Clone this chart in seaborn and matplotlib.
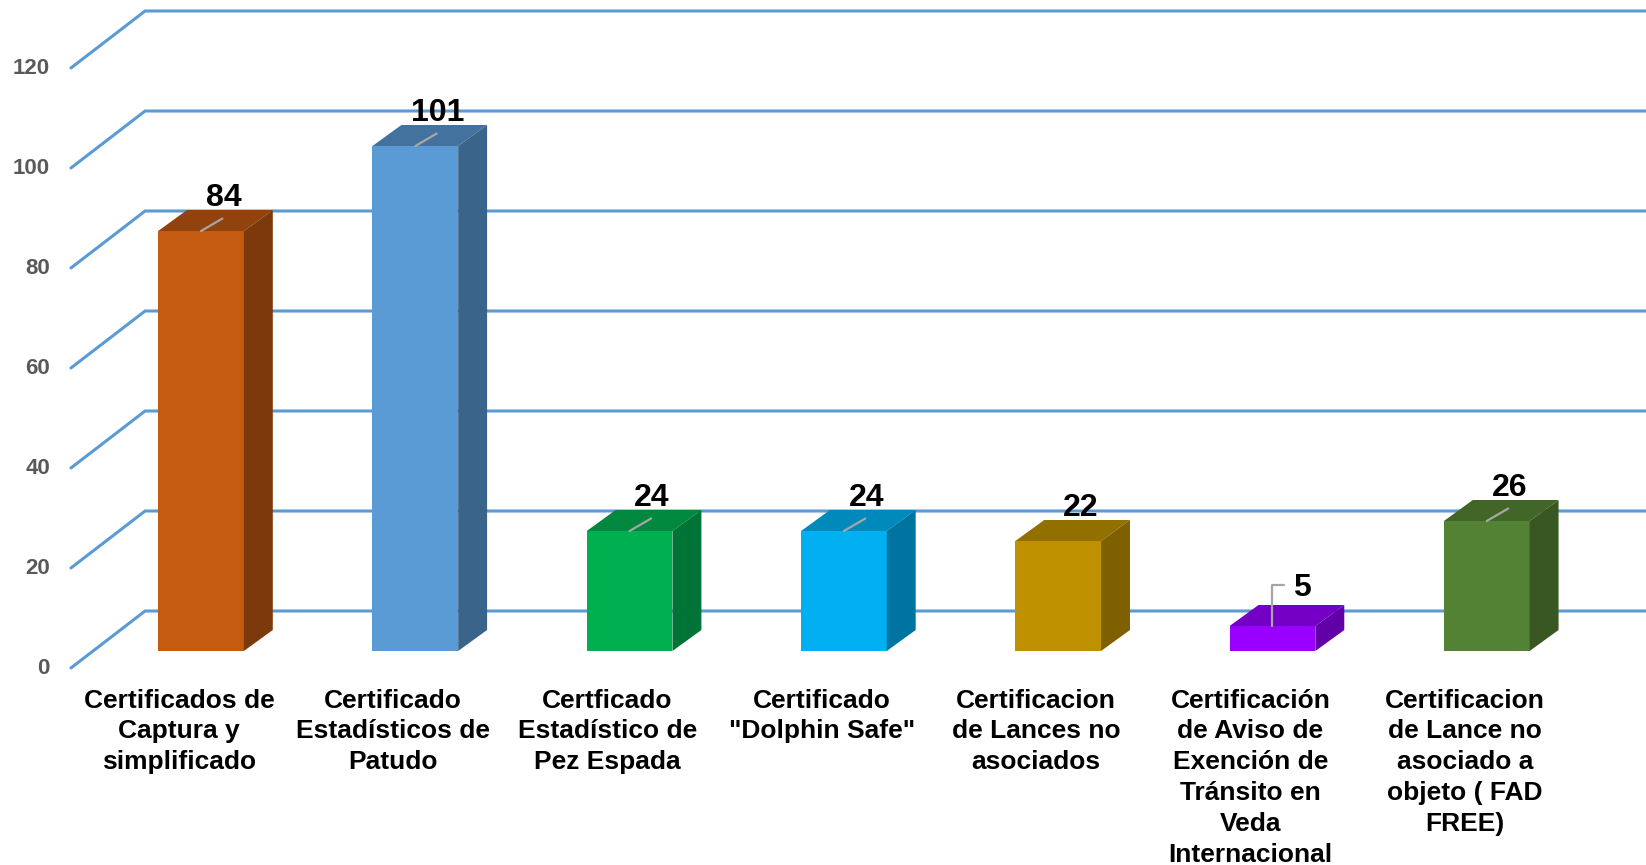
import matplotlib
matplotlib.use("Agg")
import matplotlib.pyplot as plt
from matplotlib.patches import Polygon
import seaborn as sns
import pandas as pd

# ---- data ----
categories = [
    "Certificados de\nCaptura y\nsimplificado",
    "Certificado\nEstadísticos de\nPatudo",
    "Certficado\nEstadístico de\nPez Espada",
    "Certificado\n\"Dolphin Safe\"",
    "Certificacion\nde Lances no\nasociados",
    "Certificación\nde Aviso de\nExención de\nTránsito en\nVeda\nInternacional",
    "Certificacion\nde Lance no\nasociado a\nobjeto ( FAD\nFREE)",
]
values = [84, 101, 24, 24, 22, 5, 26]
y_ticks = [0, 20, 40, 60, 80, 100, 120]
front_colors = ["#C55A11", "#5B9BD5", "#00B050", "#00B0F0", "#BF9000", "#9900FF", "#548235"]
top_colors = ["#92420D", "#44729E", "#00893E", "#0089BB", "#917000", "#7300C4", "#416628"]
side_colors = ["#7C390B", "#3A6489", "#007336", "#0074A0", "#7F6000", "#6000A6", "#385723"]
leader_style = ["diag", "diag", "diag", "diag", "none", "elbow", "diag"]

sns.set_theme(style="white")
plt.rcParams["font.family"] = ["Liberation Sans", "DejaVu Sans"]

fig = plt.figure(figsize=(16.46, 8.65), dpi=100)
ax = fig.add_axes([0, 0, 1, 1])

df = pd.DataFrame({"cat": categories, "val": values})
sns.barplot(data=df, x="cat", y="val", hue="cat", palette=front_colors,
            width=0.4, saturation=1, legend=False, ax=ax, zorder=3)

# view mapping (px-based calibration)
ax.set_xlim(-0.938, 6.743)
ax.set_ylim(-42.8, 130.2)
ax.axis("off")

# depth vectors (data units)
bdx, bdy = 0.135, 4.2          # bar depth
fdx, fdy = -0.103, -3.4        # floor front edge relative to bar front plane
kdx, kdy = 0.243, 8.0          # back wall relative to bar front plane
grid_col = "#5B9BD5"

# gridlines (front diagonal + back wall horizontal)
x_front_left = -0.607
for v in y_ticks:
    ax.plot([x_front_left, x_front_left + (kdx - fdx), 7.0],
            [v + fdy, v + kdy, v + kdy], color=grid_col, lw=2.2,
            zorder=1, solid_joinstyle="miter", clip_on=False)
    ax.text(-0.705, v + fdy, str(v), ha="right", va="center",
            fontsize=16, fontweight="bold", color="#595959")

# 3D faces
for i, p in enumerate(ax.patches[:len(values)]):
    x0 = p.get_x()
    w = p.get_width()
    h = p.get_height()
    x1 = x0 + w
    top = Polygon([(x0, h), (x1, h), (x1 + bdx, h + bdy), (x0 + bdx, h + bdy)],
                  closed=True, facecolor=top_colors[i], edgecolor="none", zorder=3)
    side = Polygon([(x1, 0), (x1 + bdx, bdy), (x1 + bdx, h + bdy), (x1, h)],
                   closed=True, facecolor=side_colors[i], edgecolor="none", zorder=3)
    ax.add_patch(top)
    ax.add_patch(side)
    p.set_edgecolor("none")

    cx = x0 + w / 2
    # leader lines and value labels
    if leader_style[i] == "elbow":
        ax.plot([cx, cx, cx + 0.056], [h, h + 8.2, h + 8.2],
                color="#A6A6A6", lw=1.6, zorder=4)
        ax.text(cx + 0.135, h + 7.6, str(values[i]), ha="center", va="center",
                fontsize=23, fontweight="bold", color="black", zorder=5)
    else:
        if leader_style[i] == "diag":
            ax.plot([cx, cx + 0.1], [h, h + 2.5], color="#A6A6A6", lw=1.6, zorder=4)
        ax.text(cx + 0.105, h + 6.6, str(values[i]), ha="center", va="center",
                fontsize=23, fontweight="bold", color="black", zorder=5)

    # category label
    ax.text(cx + fdx, -7.5, categories[i], ha="center", va="top",
            fontsize=19, fontweight="bold", color="black", linespacing=1.36)

fig.savefig("out.png", dpi=100)
